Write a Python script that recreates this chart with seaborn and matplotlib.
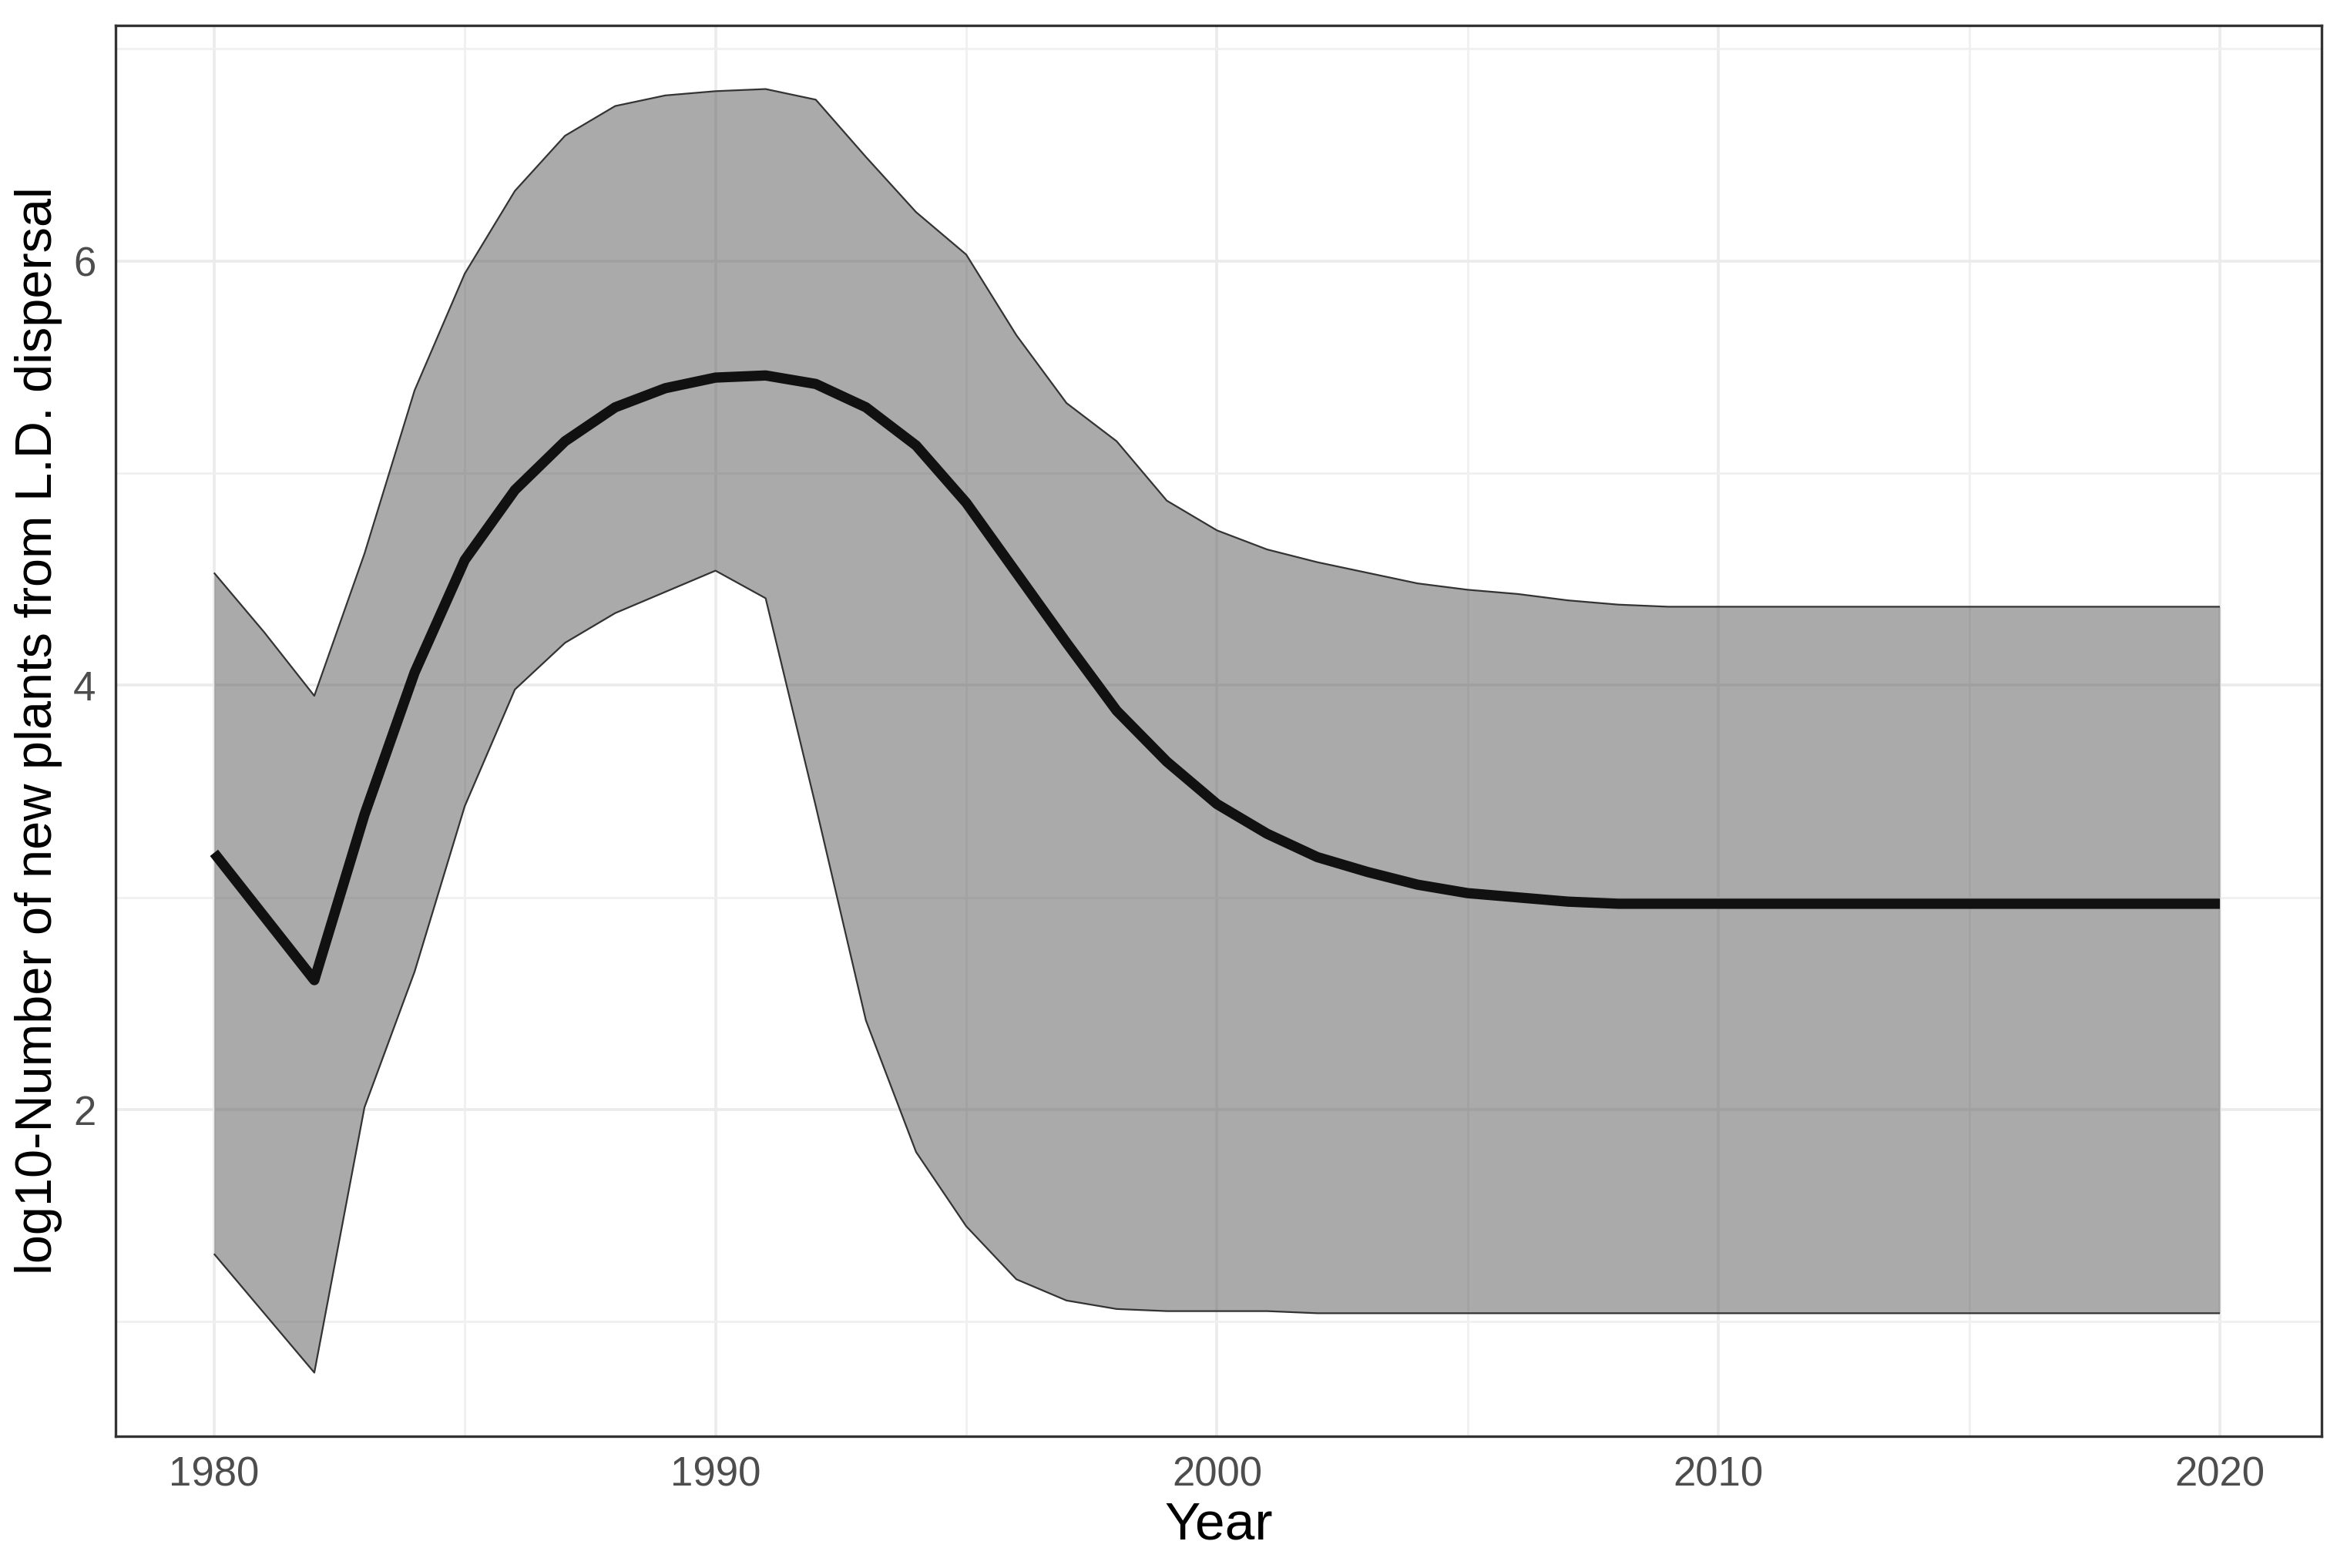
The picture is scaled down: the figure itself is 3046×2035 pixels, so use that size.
import numpy as np
import pandas as pd
import seaborn as sns
import matplotlib.pyplot as plt
from matplotlib.ticker import MultipleLocator

# --- dados ---
anos = list(range(1980, 2021))

media = [3.21, 2.91, 2.61, 3.39, 4.06, 4.59, 4.92, 5.15, 5.31, 5.40,
         5.45, 5.46, 5.42, 5.31, 5.13, 4.86, 4.53, 4.20, 3.88, 3.64,
         3.44, 3.30, 3.19, 3.12, 3.06, 3.02, 3.00, 2.98, 2.97, 2.97,
         2.97, 2.97, 2.97, 2.97, 2.97, 2.97, 2.97, 2.97, 2.97, 2.97,
         2.97]

superior = [4.53, 4.25, 3.95, 4.62, 5.39, 5.94, 6.33, 6.59, 6.73, 6.78,
            6.80, 6.81, 6.76, 6.49, 6.23, 6.03, 5.65, 5.33, 5.15, 4.87,
            4.73, 4.64, 4.58, 4.53, 4.48, 4.45, 4.43, 4.40, 4.38, 4.37,
            4.37, 4.37, 4.37, 4.37, 4.37, 4.37, 4.37, 4.37, 4.37, 4.37,
            4.37]

inferior = [1.32, 1.04, 0.76, 2.01, 2.65, 3.43, 3.98, 4.20, 4.34, 4.44,
            4.54, 4.41, 3.43, 2.42, 1.80, 1.45, 1.20, 1.10, 1.06, 1.05,
            1.05, 1.05, 1.04, 1.04, 1.04, 1.04, 1.04, 1.04, 1.04, 1.04,
            1.04, 1.04, 1.04, 1.04, 1.04, 1.04, 1.04, 1.04, 1.04, 1.04,
            1.04]

df = pd.DataFrame({'Year': anos, 'media': media,
                   'superior': superior, 'inferior': inferior})

# --- estilo ---
sns.set_theme(style="whitegrid")
plt.rcParams['font.family'] = ['Liberation Sans', 'DejaVu Sans']

fig = plt.figure(figsize=(15.23, 10.175), dpi=200)
ax = fig.add_axes([0.0491, 0.084, 0.9401, 0.8998])

# faixa de incerteza (preenchimento semi-transparente, contorno só em cima e embaixo)
ax.fill_between(df['Year'], df['inferior'], df['superior'],
                facecolor='#575757', alpha=0.5, linewidth=0, zorder=2)
sns.lineplot(data=df, x='Year', y='superior', ax=ax, color='#333333',
             linewidth=0.8, zorder=2.5)
sns.lineplot(data=df, x='Year', y='inferior', ax=ax, color='#333333',
             linewidth=0.8, zorder=2.5)

# linha principal
sns.lineplot(data=df, x='Year', y='media', ax=ax, color='#111111',
             linewidth=4.8, zorder=3)
for ln in ax.lines:
    ln.set_solid_capstyle('butt')
    ln.set_solid_joinstyle('round')

ax.set_xlim(1978.03, 2022.03)
ax.set_ylim(0.46, 7.11)
ax.set_xticks([1980, 1990, 2000, 2010, 2020])
ax.set_yticks([2, 4, 6])
ax.xaxis.set_minor_locator(MultipleLocator(5))
ax.yaxis.set_minor_locator(MultipleLocator(1))

ax.grid(which='major', color='#EBEBEB', linewidth=1.3, zorder=0)
ax.grid(which='minor', color='#F0F0F0', linewidth=1.0, zorder=0)
ax.set_axisbelow(True)
ax.set_facecolor('white')

for s in ax.spines.values():
    s.set_color('#333333')
    s.set_linewidth(1.2)

ax.tick_params(axis='both', which='major', length=5, width=1.0,
               color='#333333', labelsize=19, labelcolor='#4D4D4D', pad=4)
ax.tick_params(axis='both', which='minor', length=0)

ax.set_xlabel('Year', fontsize=25, color='black', labelpad=3)
ax.set_ylabel('log10-Number of new plants from L.D. dispersal',
              fontsize=24, color='black', labelpad=5)

fig.savefig('out.png', dpi=200)
